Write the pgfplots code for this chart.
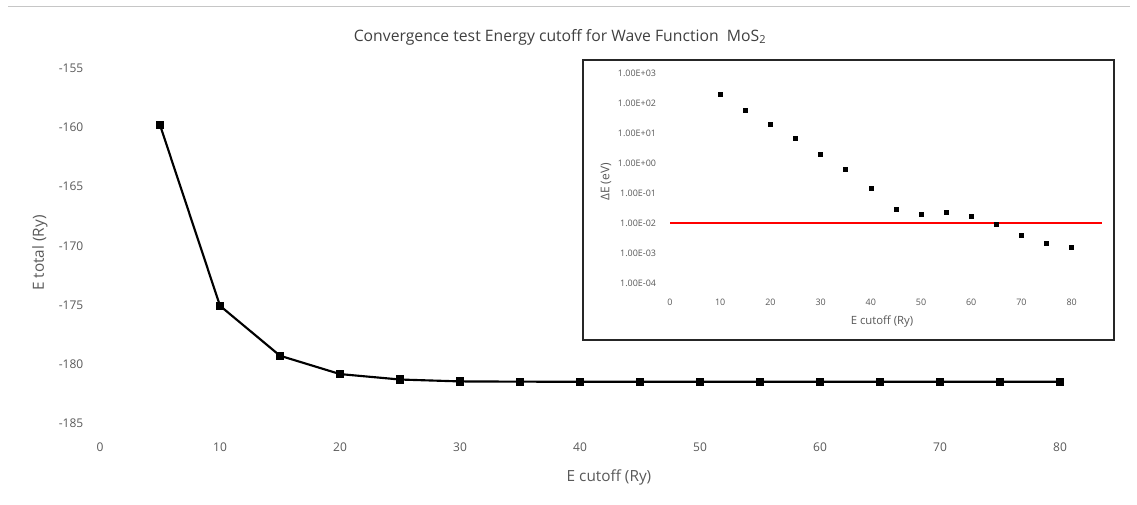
\documentclass[border=0pt]{standalone}
\usepackage{fontspec}
\setmainfont{Open Sans}
\usepackage{pgfplots}
\pgfplotsset{compat=1.18}
\definecolor{lbl}{HTML}{595959}
\definecolor{ttl}{HTML}{404040}
\begin{document}
\begin{tikzpicture}[x=0.75pt,y=0.75pt]
\path[use as bounding box] (0,0) rectangle (1137,504);
\draw[gray!45, line width=0.75pt] (8,497) -- (1130,497);
\node[text=ttl, font=\fontsize{11.8}{14}\selectfont] at (560,467) {Convergence test Energy cutoff for Wave Function\ \ MoS\textsubscript{2}};
\node[text=lbl, font=\fontsize{11.5}{13}\selectfont, rotate=90] at (40,251) {E total (Ry)};
\node[text=lbl, font=\fontsize{11.5}{13}\selectfont] at (609,27) {E cutoff (Ry)};
\begin{axis}[at={(75pt,60.525pt)}, anchor=south west, scale only axis,
  width=765pt, height=266.25pt,
  xmin=0, xmax=85, ymin=-185, ymax=-155,
  xtick={0,10,...,80}, ytick={-185,-180,...,-155},
  axis line style={draw=none}, major tick length=0pt,
  tick label style={text=lbl, font=\fontsize{9}{10}\selectfont},
  yticklabel style={xshift=-9pt},
  xticklabel style={yshift=-11pt},
  /pgf/number format/assume math mode=true, clip=false]
\addplot[black, line width=1.6pt, mark=square*, mark size=2.3pt] coordinates {
(5,-159.79) (10,-175.07) (15,-179.29) (20,-180.84) (25,-181.30) (30,-181.46)
(35,-181.48) (40,-181.49) (45,-181.49) (50,-181.49) (55,-181.49) (60,-181.49)
(65,-181.49) (70,-181.49) (75,-181.49) (80,-181.49)};
\end{axis}
\fill[white] (583,164) rectangle (1114,444);
\draw[black!85, line width=1.5pt] (583,164) rectangle (1114,444);
\node[text=lbl, font=\fontsize{9}{10}\selectfont, rotate=90] at (606,322) {ΔE (eV)};
\node[text=lbl, font=\fontsize{8.5}{10}\selectfont] at (882,182) {E cutoff (Ry)};
\begin{axis}[at={(502.5pt,165.525pt)}, anchor=south west, scale only axis,
  width=323.8pt, height=157.5pt, ymode=log,
  xmin=0, xmax=86, ymin=1e-4, ymax=1e3,
  xtick={0,10,...,80},
  ytick={1e-4,1e-3,1e-2,1e-1,1,10,100,1000},
  yticklabels={1.00E-04,1.00E-03,1.00E-02,1.00E-01,1.00E+00,1.00E+01,1.00E+02,1.00E+03},
  axis line style={draw=none}, major tick length=0pt, minor tick num=0,
  tick label style={text=lbl, font=\fontsize{6.7}{8}\selectfont},
  yticklabel style={xshift=-7pt},
  xticklabel style={yshift=-8pt},
  log basis y=10,
  /pgf/number format/assume math mode=true, clip=false]
\addplot[red, line width=1.5pt] coordinates {(0,0.01) (86,0.01)};
\addplot[only marks, black, mark=square*, mark size=1.5pt] coordinates {
(10,204) (15,59) (20,20.4) (25,6.7) (30,2.0) (35,0.625) (40,0.145)
(45,0.0294) (50,0.0206) (55,0.024) (60,0.0173) (65,0.00897)
(70,0.0040) (75,0.00223) (80,0.00161)};
\end{axis}
\end{tikzpicture}
\end{document}
